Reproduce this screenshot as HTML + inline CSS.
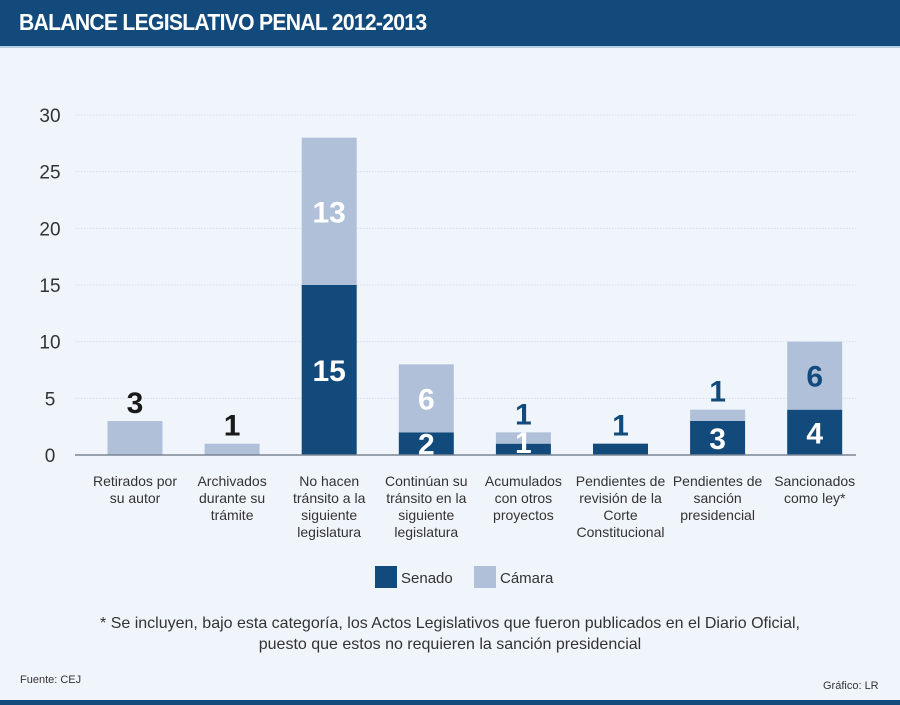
<!DOCTYPE html>
<html><head><meta charset="utf-8"><style>
body{margin:0;width:900px;height:705px;background:#f0f5fb;font-family:"Liberation Sans",sans-serif;overflow:hidden;position:relative}
#hdr{position:absolute;left:0;top:0;width:900px;height:46px;background:#134a7c;border-bottom:2px solid #b8cde6}
#hdr span{position:absolute;left:19px;top:9px;color:#fff;font-weight:bold;font-size:23px;letter-spacing:-0.8px;transform:scaleX(0.92);transform-origin:left}
#foot{position:absolute;left:0;top:700px;width:900px;height:5px;background:#134a7c}
.t{position:absolute;font-size:14px;color:#333}
</style></head><body>
<div id="hdr"><span>BALANCE LEGISLATIVO PENAL 2012-2013</span></div>
<svg id="chart" width="900" height="705" style="position:absolute;left:0;top:0"></svg>
<div class="t" style="left:0;width:900px;top:613px;text-align:center;font-size:16px;line-height:21px;color:#333">* Se incluyen, bajo esta categoría, los Actos Legislativos que fueron publicados en el Diario Oficial,<br>puesto que estos no requieren la sanción presidencial</div>
<div class="t" style="left:20px;top:674px;font-size:11px">Fuente: CEJ</div>
<div class="t" style="left:823px;top:680px;font-size:11px">Gráfico: LR</div>
<div id="foot"></div>
<script>
const categories=[["Retirados por","su autor"],["Archivados","durante su","trámite"],["No hacen","tránsito a la","siguiente","legislatura"],["Continúan su","tránsito en la","siguiente","legislatura"],["Acumulados","con otros","proyectos"],["Pendientes de","revisión de la","Corte","Constitucional"],["Pendientes de","sanción","presidencial"],["Sancionados","como ley*"]];
const senado=[0,0,15,2,1,1,3,4];
const camara=[3,1,13,6,1,0,1,6];
const yTicks=[0,5,10,15,20,25,30];
const NS="http://www.w3.org/2000/svg";
const svg=document.getElementById('chart');
const y0=455,pxPer=340/30,x0=135,step=97.1,bw=55;
const Y=v=>y0-v*pxPer, X=i=>x0+i*step;
function mk(t,a,p){const e=document.createElementNS(NS,t);for(const k in a)e.setAttribute(k,a[k]);(p||svg).appendChild(e);return e;}
yTicks.forEach(v=>{
 if(v>0){const g=mk('line',{x1:75,x2:856,y1:Y(v),y2:Y(v),stroke:'#d6dde8','stroke-dasharray':'1.5 1.5'});
 
 }
 const t=mk('text',{x:50,y:Y(v)+7,'text-anchor':'middle','font-size':19,fill:'#333','font-family':'Liberation Sans Narrow, Liberation Sans, sans-serif'});
 t.textContent=v;
 
 
});
function lbl(x,y,txt,col,name){const t=mk('text',{x:x,y:y,'text-anchor':'middle','font-size':30,'font-weight':'bold',fill:col,transform:'',style:'font-family:Liberation Sans Narrow,Liberation Sans,sans-serif'});t.textContent=txt;
 
 }
categories.forEach((c,i)=>{
 const cx=X(i),s=senado[i],k=camara[i];
 if(s>0){const r=mk('rect',{x:cx-bw/2,y:Y(s),width:bw,height:Y(0)-Y(s),fill:'#134a7c'});
 
 }
 if(k>0){const r=mk('rect',{x:cx-bw/2,y:Y(s+k),width:bw,height:Y(s)-Y(s+k),fill:'#b0c0d8'});
 
 }
 const tot=s+k;
 if(s>0&&k>0){
  const big=k>=3;
  lbl(cx,big?Y(s)-(Y(s)-Y(tot))/2+11:Y(tot)-8,k,big?(i==7?'#134a7c':'#fff'):'#134a7c','label-camara-'+i);
  lbl(cx,s>=2?Y(s/2)+11:Y(0)-2,s,'#fff','label-senado-'+i);
 } else if(s>0){
  lbl(cx,s>=3?Y(s/2)+11:Y(s)-8,s,s>=3?'#fff':'#134a7c','label-senado-'+i);
 } else {
  lbl(cx,Y(k)-8,k,'#1a1a1a','label-camara-'+i);
 }
 c.forEach((ln,j)=>{const t=mk('text',{x:cx,y:486+j*17,'text-anchor':'middle','font-size':14,fill:'#333'});t.textContent=ln;
  
  });
});
const ax=mk('line',{x1:75,x2:856,y1:y0,y2:y0,stroke:'#7a8594','stroke-width':1.5});


[["Senado",'#134a7c',375],["Cámara",'#b0c0d8',474]].forEach((l,i)=>{
 const r=mk('rect',{x:l[2],y:566,width:22,height:22,fill:l[1]});
 
 
 const t=mk('text',{x:l[2]+26,y:583,'font-size':15,fill:'#333'});t.textContent=l[0];
 
 
});
</script>
</body></html>
